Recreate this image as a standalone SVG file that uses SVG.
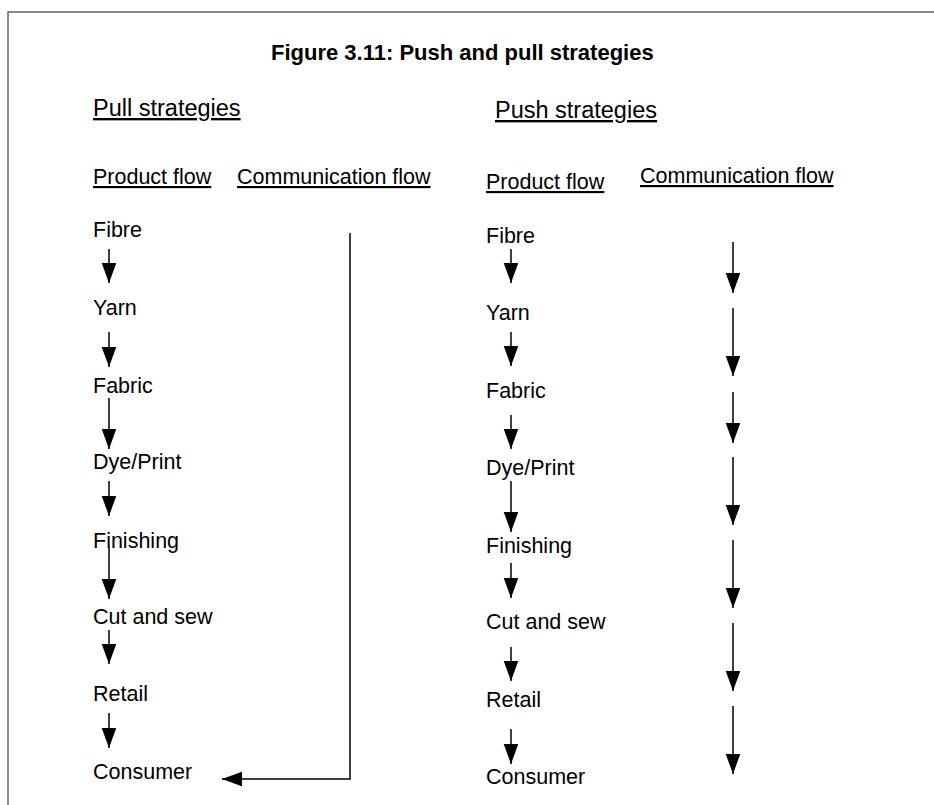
<svg xmlns="http://www.w3.org/2000/svg" width="934" height="805" viewBox="0 0 934 805">
<style>
  text { font-family: "Liberation Sans", Arial, Helvetica, sans-serif; fill: #000; }
  .t { font-size: 21.5px; }
  .u { text-decoration: underline; }
  .h { font-size: 23.5px; text-decoration: underline; }
  .title { font-size: 22px; font-weight: bold; }
  .ar { stroke: #000; stroke-width: 1.5; fill: none; marker-end: url(#ah); }
</style>
<defs>
  <marker id="ah" markerUnits="userSpaceOnUse" markerWidth="20" markerHeight="15" refX="20" refY="7.3" orient="auto">
    <path d="M0,0 L20,7.3 L0,14.6 Z" fill="#000"/>
  </marker>
</defs>
<rect width="934" height="805" fill="#fff"/>
<path d="M8,805 V12 H934" fill="none" stroke="#666" stroke-width="1.5"/>

<g id="title"><text class="title" x="271" y="60">Figure 3.11: Push and pull strategies</text></g>

<g id="pull-header">
  <text class="h" x="93" y="116">Pull strategies</text>
  <text class="t u" x="93" y="184">Product flow</text>
  <text class="t u" x="237" y="184">Communication flow</text>
</g>
<g id="push-header">
  <text class="h" x="495" y="118">Push strategies</text>
  <text class="t u" x="486" y="189">Product flow</text>
  <text class="t u" x="640" y="183">Communication flow</text>
</g>

<g id="pull-fibre"><text class="t" x="93" y="237">Fibre</text></g>
<g id="pull-yarn"><text class="t" x="93" y="315">Yarn</text></g>
<g id="pull-fabric"><text class="t" x="93" y="393">Fabric</text></g>
<g id="pull-dye"><text class="t" x="93" y="469">Dye/Print</text></g>
<g id="pull-finishing"><text class="t" x="93" y="548">Finishing</text></g>
<g id="pull-cut"><text class="t" x="93" y="624">Cut and sew</text></g>
<g id="pull-retail"><text class="t" x="93" y="701">Retail</text></g>
<g id="pull-consumer"><text class="t" x="93" y="779">Consumer</text></g>

<g id="push-fibre"><text class="t" x="486" y="243">Fibre</text></g>
<g id="push-yarn"><text class="t" x="486" y="320">Yarn</text></g>
<g id="push-fabric"><text class="t" x="486" y="398">Fabric</text></g>
<g id="push-dye"><text class="t" x="486" y="475">Dye/Print</text></g>
<g id="push-finishing"><text class="t" x="486" y="553">Finishing</text></g>
<g id="push-cut"><text class="t" x="486" y="629">Cut and sew</text></g>
<g id="push-retail"><text class="t" x="486" y="707">Retail</text></g>
<g id="push-consumer"><text class="t" x="486" y="784">Consumer</text></g>

<g id="connectors">
  <line class="ar" x1="109" y1="249" x2="109" y2="283"/>
  <line class="ar" x1="109" y1="332" x2="109" y2="367"/>
  <line class="ar" x1="109" y1="398" x2="109" y2="449"/>
  <line class="ar" x1="109" y1="481" x2="109" y2="516"/>
  <line class="ar" x1="109" y1="547" x2="109" y2="599"/>
  <line class="ar" x1="109" y1="630" x2="109" y2="664"/>
  <line class="ar" x1="109" y1="713" x2="109" y2="748"/>
  <polyline class="ar" points="350,233 350,779 222,779"/>

  <line class="ar" x1="511" y1="249" x2="511" y2="283"/>
  <line class="ar" x1="511" y1="332" x2="511" y2="366"/>
  <line class="ar" x1="511" y1="415" x2="511" y2="449"/>
  <line class="ar" x1="511" y1="481" x2="511" y2="532"/>
  <line class="ar" x1="511" y1="563" x2="511" y2="598"/>
  <line class="ar" x1="511" y1="647" x2="511" y2="681"/>
  <line class="ar" x1="511" y1="729" x2="511" y2="764"/>

  <line class="ar" x1="733" y1="242" x2="733" y2="293"/>
  <line class="ar" x1="733" y1="308" x2="733" y2="376"/>
  <line class="ar" x1="733" y1="392" x2="733" y2="443"/>
  <line class="ar" x1="733" y1="457" x2="733" y2="525"/>
  <line class="ar" x1="733" y1="540" x2="733" y2="608"/>
  <line class="ar" x1="733" y1="623" x2="733" y2="691"/>
  <line class="ar" x1="733" y1="706" x2="733" y2="774"/>
</g>
</svg>
